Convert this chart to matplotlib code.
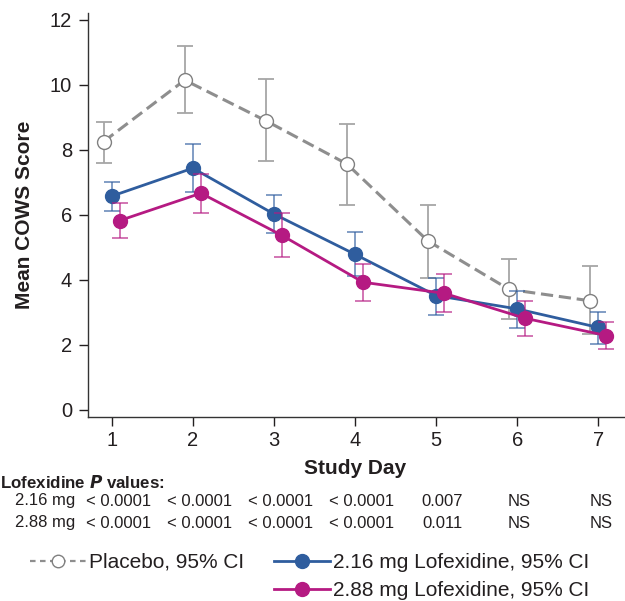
import numpy as np
import matplotlib
matplotlib.use('Agg')
import matplotlib.pyplot as plt
from matplotlib.lines import Line2D

plt.rcParams['font.family'] = ['Liberation Sans', 'DejaVu Sans']

# data
days = np.array([1, 2, 3, 4, 5, 6, 7])

placebo = [8.26, 10.15, 8.90, 7.57, 5.20, 3.71, 3.36]
placebo_lo = [7.59, 9.13, 7.66, 6.31, 4.07, 2.79, 2.34]
placebo_hi = [8.87, 11.20, 10.17, 8.81, 6.31, 4.65, 4.43]

lof216 = [6.58, 7.44, 6.03, 4.79, 3.52, 3.11, 2.54]
lof216_lo = [6.12, 6.70, 5.44, 4.13, 2.92, 2.53, 2.02]
lof216_hi = [7.02, 8.18, 6.62, 5.48, 4.05, 3.67, 3.03]

lof288 = [5.83, 6.67, 5.37, 3.93, 3.59, 2.82, 2.29]
lof288_lo = [5.28, 6.05, 4.70, 3.35, 3.03, 2.27, 1.88]
lof288_hi = [6.38, 7.26, 6.05, 4.49, 4.18, 3.35, 2.71]

p_216 = ['< 0.0001', '< 0.0001', '< 0.0001', '< 0.0001', '0.007', 'NS', 'NS']
p_288 = ['< 0.0001', '< 0.0001', '< 0.0001', '< 0.0001', '0.011', 'NS', 'NS']

gray = '#8e8e8e'
blue = '#2f5d9e'
magenta = '#b51a82'
txt = '#231f20'

fig = plt.figure(figsize=(6.25, 6.01), dpi=100)
ax = fig.add_axes([0.1408, 0.3062, 0.8592, 0.6722])


def err(v, lo, hi):
    v = np.array(v)
    return [v - np.array(lo), np.array(hi) - v]


# placebo
ax.errorbar(days - 0.1, placebo, yerr=err(placebo, placebo_lo, placebo_hi),
            fmt='none', ecolor='#a6a6a6', elinewidth=1.3, capsize=6, capthick=1.3, zorder=1)
ax.plot(days - 0.1, placebo, color=gray, lw=2.2, ls=(0, (4, 1.9)), zorder=2)
ax.plot(days - 0.1, placebo, 'o', ms=10, mfc='white', mec='#808080', mew=1.0, zorder=3)

# 2.16 mg
ax.errorbar(days, lof216, yerr=err(lof216, lof216_lo, lof216_hi),
            fmt='none', ecolor=blue, alpha=0.65, elinewidth=1.3, capsize=6, capthick=1.3, zorder=4)
ax.plot(days, lof216, color=blue, lw=2.0, marker='o', ms=10, zorder=5)

# 2.88 mg
ax.errorbar(days + 0.1, lof288, yerr=err(lof288, lof288_lo, lof288_hi),
            fmt='none', ecolor=magenta, alpha=0.65, elinewidth=1.3, capsize=6, capthick=1.3, zorder=6)
ax.plot(days + 0.1, lof288, color=magenta, lw=2.0, marker='o', ms=10, zorder=7)

ax.set_xlim(0.707, 7.33)
ax.set_ylim(-0.215, 12.215)
ax.set_xticks(days)
ax.set_yticks([0, 2, 4, 6, 8, 10, 12])
ax.tick_params(labelsize=14.5, colors=txt, length=6.5, width=1, direction='out')
ax.tick_params(axis='y', pad=5)
for s in ['top', 'right']:
    ax.spines[s].set_visible(False)
for s in ['left', 'bottom']:
    ax.spines[s].set_color('#333333')
    ax.spines[s].set_linewidth(1.0)

ax.set_ylabel('Mean COWS Score', fontsize=15, fontweight='bold', color=txt)
ax.yaxis.set_label_coords(-(88 - 34) / (0.8592 * 625), 0.5)
fig.text(355 / 625, 1 - 468 / 601, 'Study Day', fontsize=15, fontweight='bold',
         color=txt, ha='center', va='center')

# p-value table
fig.text(0.0, 1 - 482 / 601, 'Lofexidine $\\bfit{P}$ values:', fontsize=12.2,
         fontweight='bold', color=txt, ha='left', va='center')
for row, (lab, vals) in enumerate([('2.16 mg', p_216), ('2.88 mg', p_288)]):
    yy = 1 - (501 + row * 22) / 601
    fig.text(75 / 625, yy, lab, fontsize=12, color=txt, ha='right', va='center')
    for d, v in zip(days, vals):
        off = 0.03 if v == 'NS' else 0.08
        xf = fig.transFigure.inverted().transform(ax.transData.transform((d + off, 0)))[0]
        fig.text(xf, yy, v, fontsize=12, color=txt, ha='center', va='center')

# legend
h_pl = Line2D([], [], color=gray, lw=1.6, ls=(0, (2.5, 2)), marker='o', ms=9,
              mfc='white', mec='#808080', mew=1.0)
h_216 = Line2D([], [], color=blue, lw=2.0, marker='o', ms=10)
h_288 = Line2D([], [], color=magenta, lw=2.0, marker='o', ms=10)
h_blank = Line2D([], [], color='none')
fig.legend([h_pl, h_blank, h_216, h_288],
           ['Placebo, 95% CI', '', '2.16 mg Lofexidine, 95% CI', '2.88 mg Lofexidine, 95% CI'],
           ncol=2, loc='upper left', bbox_to_anchor=(30 / 625, 1 - 553 / 601),
           frameon=False, fontsize=15, handlelength=2.7, handletextpad=0.15,
           columnspacing=1.4, borderpad=0, borderaxespad=0, labelspacing=0.45,
           labelcolor=txt)

fig.savefig('out.png', dpi=100)
